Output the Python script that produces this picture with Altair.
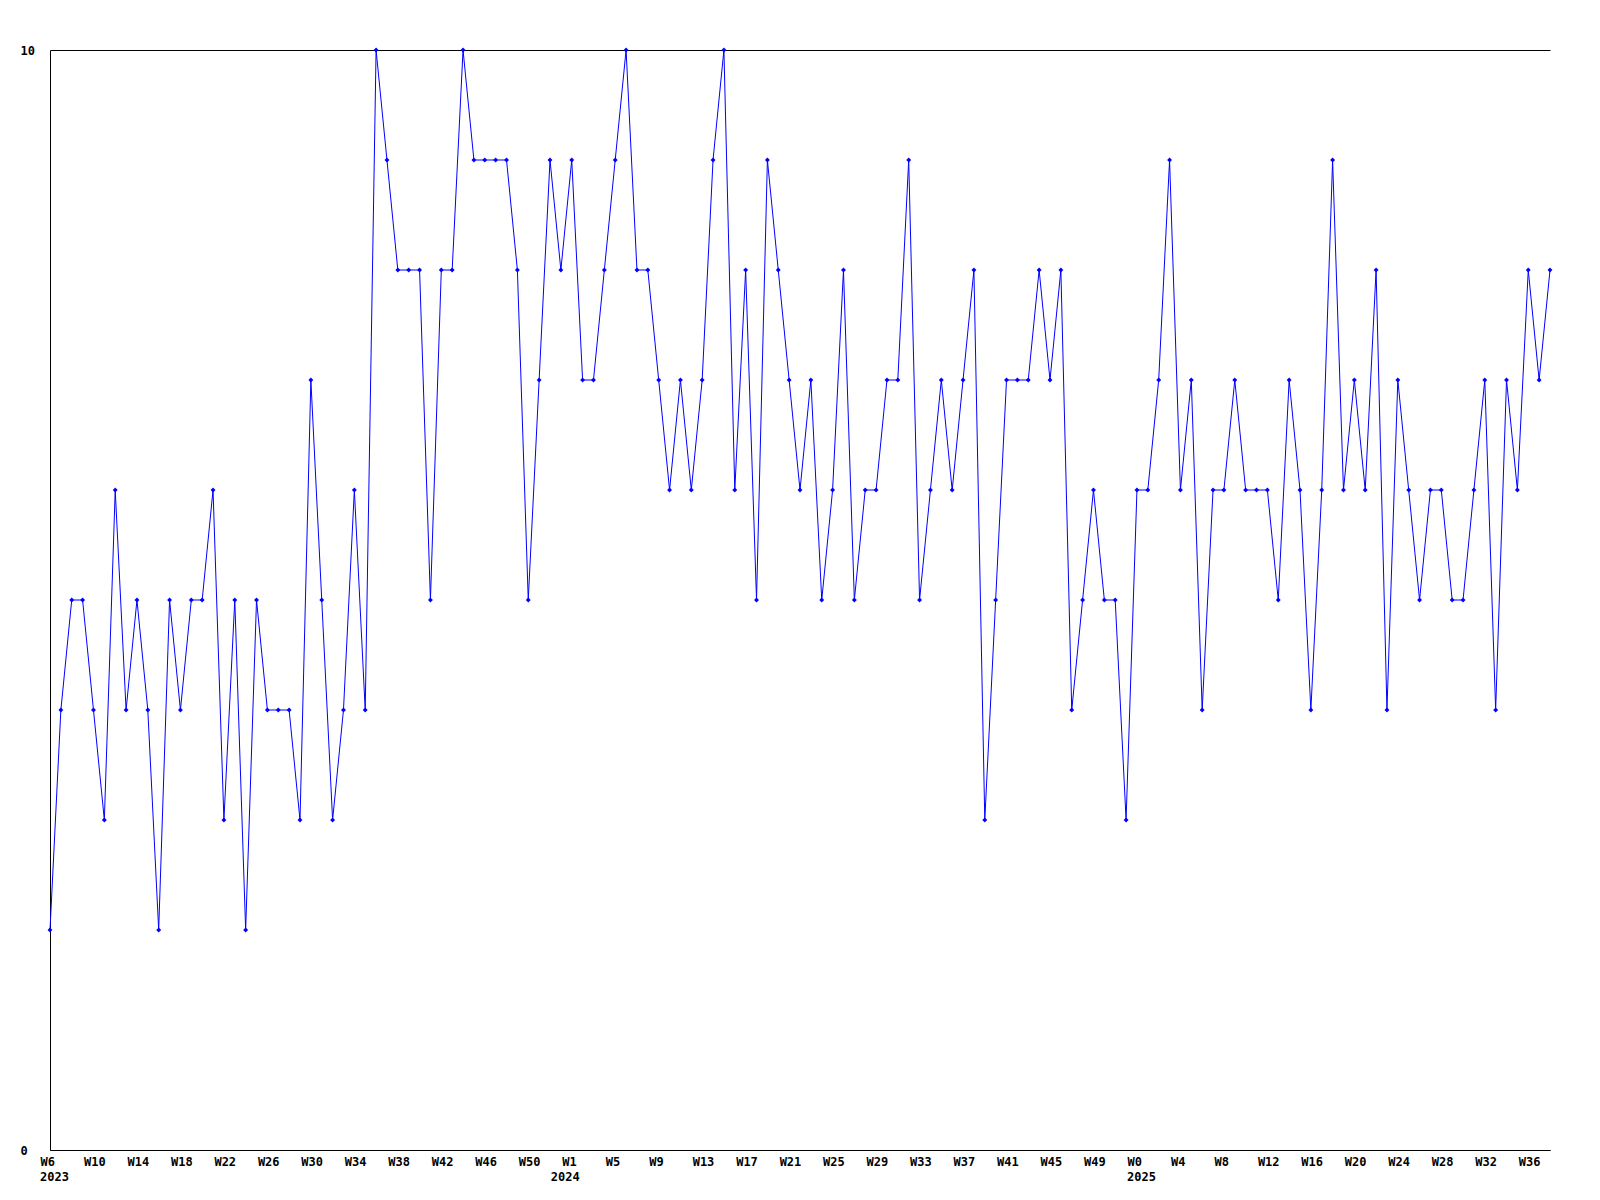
import json
import altair as alt
import pandas as pd

# Weekly values, starting at W6 2023
values = [2, 4, 5, 5, 4, 3, 6, 4, 5, 4,
          2, 5, 4, 5, 5, 6, 3, 5, 2, 5,
          4, 4, 4, 3, 7, 5, 3, 4, 6, 4,
          10, 9, 8, 8, 8, 5, 8, 8, 10, 9,
          9, 9, 9, 8, 5, 7, 9, 8, 9, 7,
          7, 8, 9, 10, 8, 8, 7, 6, 7, 6,
          7, 9, 10, 6, 8, 5, 9, 8, 7, 6,
          7, 5, 6, 8, 5, 6, 6, 7, 7, 9,
          5, 6, 7, 6, 7, 8, 3, 5, 7, 7,
          7, 8, 7, 8, 4, 5, 6, 5, 5, 3,
          6, 6, 7, 9, 6, 7, 4, 6, 6, 7,
          6, 6, 6, 5, 7, 6, 4, 6, 9, 6,
          7, 6, 8, 4, 7, 6, 5, 6, 6, 5,
          5, 6, 7, 4, 7, 6, 8, 7, 8]
week = list(range(len(values)))

tick_labels = ["W6", "W10", "W14", "W18", "W22", "W26", "W30", "W34", "W38",
               "W42", "W46", "W50", "W1", "W5", "W9", "W13", "W17", "W21",
               "W25", "W29", "W33", "W37", "W41", "W45", "W49", "W0", "W4",
               "W8", "W12", "W16", "W20", "W24", "W28", "W32", "W36"]
tick_weeks = list(range(0, 4 * len(tick_labels), 4))

year_labels = ["2023", "2024", "2025"]
year_weeks = [0, 47, 100]

df = pd.DataFrame({"week": week, "value": values})
years = pd.DataFrame({"week": year_weeks, "year": year_labels})

FONT = "DejaVu Sans Mono"
BLUE = "#0000ff"
label_expr = json.dumps(tick_labels) + "[round(datum.value / 4)]"

x_enc = alt.X(
    "week:Q",
    scale=alt.Scale(domain=[0, len(values) - 1], nice=False, zero=False),
    axis=alt.Axis(
        values=tick_weeks, labelExpr=label_expr, title=None, ticks=False,
        grid=False, domainColor="black", labelAlign="left", labelOffset=-10,
        labelPadding=6, labelFont=FONT, labelFontWeight="bold",
        labelFontSize=12, labelColor="black", labelOverlap=False,
        labelFlush=False,
    ),
)
y_enc = alt.Y(
    "value:Q",
    scale=alt.Scale(domain=[0, 10], nice=False),
    axis=alt.Axis(
        values=[0, 10], format="d", title=None, ticks=False, grid=True,
        gridColor="black", gridOpacity=1, domainColor="black",
        labelAlign="left", labelPadding=30, labelFont=FONT,
        labelFontWeight="bold", labelFontSize=12, labelColor="black",
        labelBaseline="middle",
    ),
)

line = alt.Chart(df).mark_line(color=BLUE, strokeWidth=1).encode(x=x_enc, y=y_enc)
points = alt.Chart(df).mark_point(
    shape="diamond", filled=True, size=24, color=BLUE, opacity=1
).encode(x="week:Q", y="value:Q")
year_text = alt.Chart(years).mark_text(
    align="left", baseline="alphabetic", dx=-10, font=FONT,
    fontWeight="bold", fontSize=12, color="black"
).encode(x="week:Q", y=alt.value(1131), text="year:N")

chart = alt.layer(line, points, year_text).properties(
    width=1500, height=1100,
    autosize=alt.AutoSizeParams(type="none"),
    padding={"left": 42, "top": 42, "right": 42, "bottom": 50},
    background="white",
).configure_view(stroke=None)

chart.save("out.html", embed_options={"renderer": "svg", "actions": False})
